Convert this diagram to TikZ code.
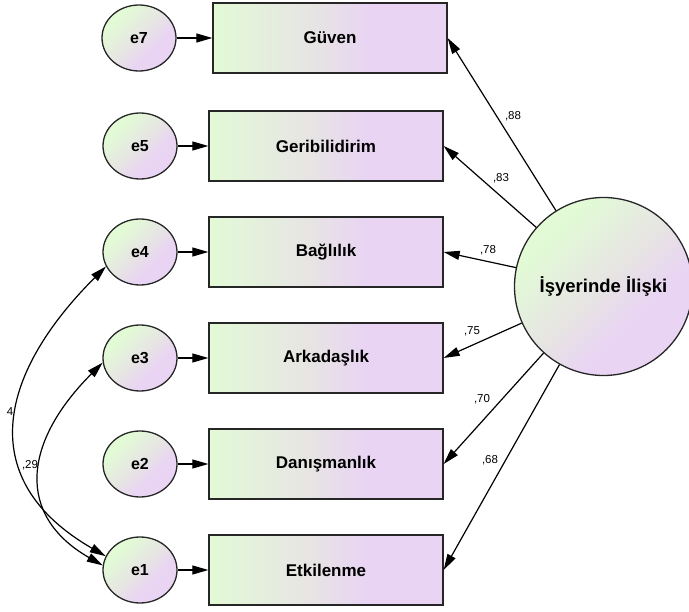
\documentclass[tikz,border=0pt]{standalone}
\usepackage{fontspec}
\setmainfont{Liberation Sans}
\usetikzlibrary{shapes.geometric,arrows.meta}
\definecolor{gA}{RGB}{226,250,214}
\definecolor{gM}{RGB}{231,228,228}
\definecolor{gB}{RGB}{233,213,243}
\pgfdeclarehorizontalshading{boxshade}{100bp}{color(0bp)=(gA); color(25bp)=(gA); color(47bp)=(gM); color(58bp)=(gB); color(100bp)=(gB)}
\pgfdeclarehorizontalshading{roundshade}{100bp}{color(0bp)=(gA); color(30bp)=(gA); color(50bp)=(gM); color(62bp)=(gB); color(100bp)=(gB)}
\tikzset{
  obs/.style={rectangle, draw=black!85, line width=1.3pt, minimum width=234pt, minimum height=70pt,
    inner sep=0pt, shading=boxshade, font=\bfseries\fontsize{17}{20}\selectfont},
  err/.style={ellipse, draw=black!85, line width=1.3pt, minimum width=74pt, minimum height=66pt,
    inner sep=0pt, shading=roundshade, shading angle=-45, font=\bfseries\fontsize{16}{19}\selectfont},
  lat/.style={circle, draw=black!85, line width=1.3pt, minimum size=178pt, inner sep=0pt,
    shading=roundshade, shading angle=-45, font=\bfseries\fontsize{18.5}{22}\selectfont},
  reg/.style={line width=1.2pt, -{Triangle[length=16pt,width=9pt]}},
  cov/.style={line width=1.2pt, {Triangle[length=16pt,width=9pt]}-{Triangle[length=16pt,width=9pt]}},
  lbl/.style={font=\fontsize{11.5}{13}\selectfont, inner sep=0pt}
}
\begin{document}
\begin{tikzpicture}[x=1pt,y=-1pt]
\useasboundingbox (0,0) rectangle (689,612);
% observed variables
\node[obs] (guv) at (330,38) {Güven};
\node[obs] (ger) at (326,146) {Geribilidirim};
\node[obs] (bag) at (326,252) {Bağlılık};
\node[obs] (ark) at (326,358) {Arkadaşlık};
\node[obs] (dan) at (326,464) {Danışmanlık};
\node[obs] (etk) at (326,570) {Etkilenme};
% errors
\node[err] (e7) at (139,38) {e7};
\node[err] (e5) at (140,146) {e5};
\node[err] (e4) at (140,252) {e4};
\node[err] (e3) at (140,358) {e3};
\node[err] (e2) at (140,464) {e2};
\node[err] (e1) at (140,570) {e1};
% latent
\node[lat] (lat) at (603.5,286.5) {İşyerinde İlişki};
% error paths
\draw[reg] (e7) -- (guv);
\draw[reg] (e5) -- (ger);
\draw[reg] (e4) -- (bag);
\draw[reg] (e3) -- (ark);
\draw[reg] (e2) -- (dan);
\draw[reg] (e1) -- (etk);
% loadings
\draw[reg] (lat) -- (guv.east);
\draw[reg] (lat) -- (ger.east);
\draw[reg] (lat) -- (bag.east);
\draw[reg] (lat) -- (ark.east);
\draw[reg] (lat) -- (dan.east);
\draw[reg] (lat) -- (etk.east);
\node[lbl] (l88) at (513,116) {,88};
\node[lbl] (l83) at (501,178) {,83};
\node[lbl] (l78) at (488,250) {,78};
\node[lbl] (l75) at (472,331) {,75};
\node[lbl] (l70) at (482,399) {,70};
\node[lbl] (l68) at (490,460) {,68};
% covariances
\draw[cov] (e4.203) .. controls +(-110,110) and +(-130,-75) .. (e1.158);
\draw[cov] (e3.187) .. controls +(-80,80) and +(-87,-50) .. (e1.173);
\node[lbl] (c34) at (10,412) {4};
\node[lbl] (c29) at (30,465) {,29};
\end{tikzpicture}
\end{document}
